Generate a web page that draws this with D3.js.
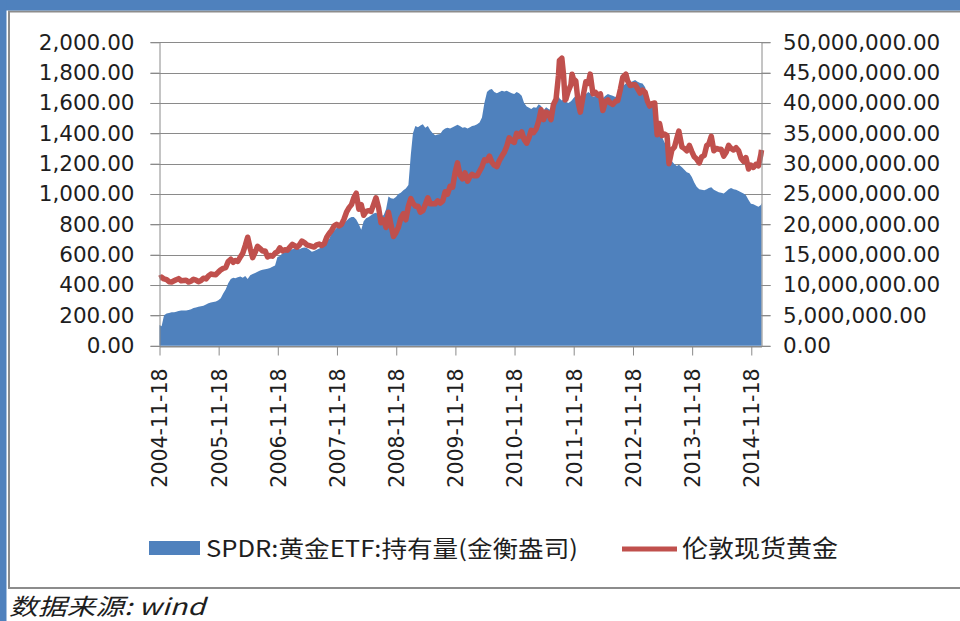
<!DOCTYPE html>
<html>
<head>
<meta charset="utf-8">
<script src="https://cdn.jsdelivr.net/npm/d3@7"></script>
<style>
  html, body { margin: 0; padding: 0; background: #fff; }
  svg { display: block; }
</style>
</head>
<body>
<div id="chart"></div>
<script>
// SPDR 黄金ETF 持有量 (右轴, 盎司) 与 伦敦现货黄金 (左轴, 美元/盎司)

// 日期 (半月取样, 按年分行)
const dates = [
  "2004-11-18","2004-12-01","2004-12-16",
  "2005-01-01","2005-01-16","2005-02-01","2005-02-16","2005-03-01","2005-03-16","2005-04-01","2005-04-16","2005-05-01","2005-05-16","2005-06-01","2005-06-16","2005-07-01","2005-07-16","2005-08-01","2005-08-16","2005-09-01","2005-09-16","2005-10-01","2005-10-16","2005-11-01","2005-11-16","2005-12-01","2005-12-16",
  "2006-01-01","2006-01-16","2006-02-01","2006-02-16","2006-03-01","2006-03-16","2006-04-01","2006-04-16","2006-05-01","2006-05-16","2006-06-01","2006-06-16","2006-07-01","2006-07-16","2006-08-01","2006-08-16","2006-09-01","2006-09-16","2006-10-01","2006-10-16","2006-11-01","2006-11-16","2006-12-01","2006-12-16",
  "2007-01-01","2007-01-16","2007-02-01","2007-02-16","2007-03-01","2007-03-16","2007-04-01","2007-04-16","2007-05-01","2007-05-16","2007-06-01","2007-06-16","2007-07-01","2007-07-16","2007-08-01","2007-08-16","2007-09-01","2007-09-16","2007-10-01","2007-10-16","2007-11-01","2007-11-16","2007-12-01","2007-12-16",
  "2008-01-01","2008-01-16","2008-02-01","2008-02-16","2008-03-01","2008-03-16","2008-04-01","2008-04-16","2008-05-01","2008-05-16","2008-06-01","2008-06-16","2008-07-01","2008-07-16","2008-08-01","2008-08-16","2008-09-01","2008-09-16","2008-10-01","2008-10-16","2008-11-01","2008-11-16","2008-12-01","2008-12-16",
  "2009-01-01","2009-01-16","2009-02-01","2009-02-16","2009-03-01","2009-03-16","2009-04-01","2009-04-16","2009-05-01","2009-05-16","2009-06-01","2009-06-16","2009-07-01","2009-07-16","2009-08-01","2009-08-16","2009-09-01","2009-09-16","2009-10-01","2009-10-16","2009-11-01","2009-11-16","2009-12-01","2009-12-16",
  "2010-01-01","2010-01-16","2010-02-01","2010-02-16","2010-03-01","2010-03-16","2010-04-01","2010-04-16","2010-05-01","2010-05-16","2010-06-01","2010-06-16","2010-07-01","2010-07-16","2010-08-01","2010-08-16","2010-09-01","2010-09-16","2010-10-01","2010-10-16","2010-11-01","2010-11-16","2010-12-01","2010-12-16",
  "2011-01-01","2011-01-16","2011-02-01","2011-02-16","2011-03-01","2011-03-16","2011-04-01","2011-04-16","2011-05-01","2011-05-16","2011-06-01","2011-06-16","2011-07-01","2011-07-16","2011-08-01","2011-08-16","2011-08-22","2011-09-06","2011-09-16","2011-09-26","2011-10-01","2011-10-16","2011-11-01","2011-11-08","2011-11-16","2011-12-01","2011-12-16","2011-12-29",
  "2012-01-16","2012-02-01","2012-02-16","2012-02-28","2012-03-16","2012-04-01","2012-04-16","2012-05-01","2012-05-16","2012-06-01","2012-06-16","2012-07-01","2012-07-16","2012-08-01","2012-08-16","2012-09-01","2012-09-16","2012-10-05","2012-10-16","2012-11-01","2012-11-16","2012-12-01","2012-12-16",
  "2013-01-01","2013-01-16","2013-02-01","2013-02-16","2013-03-01","2013-03-16","2013-04-01","2013-04-16","2013-05-01","2013-05-16","2013-06-01","2013-06-16","2013-06-28","2013-07-16","2013-08-01","2013-08-16","2013-08-28","2013-09-16","2013-10-01","2013-10-16","2013-11-01","2013-11-16","2013-12-01","2013-12-16",
  "2014-01-01","2014-01-16","2014-02-01","2014-02-16","2014-03-01","2014-03-16","2014-04-01","2014-04-16","2014-05-01","2014-05-16","2014-06-01","2014-06-16","2014-07-01","2014-07-16","2014-08-01","2014-08-16","2014-09-01","2014-09-16","2014-10-01","2014-10-16","2014-11-01","2014-11-16","2014-12-01","2014-12-16",
  "2015-01-01","2015-01-16","2015-01-20"
];

// 伦敦现货黄金 (美元/盎司, 左轴)
const goldPrice = [
  445,452,440,
  435,422,420,428,435,442,428,430,432,420,425,438,432,422,430,445,440,460,472,470,468,485,500,510,
  515,555,570,550,562,555,585,610,660,715,640,580,615,655,640,625,625,585,595,590,610,620,645,625,
  632,630,650,668,660,650,665,690,680,665,660,655,650,665,670,660,672,715,740,760,790,800,790,800,
  835,880,910,930,975,1005,900,930,860,885,890,885,930,975,910,810,830,780,880,800,720,745,780,840,
  870,830,920,970,940,920,920,880,890,930,975,935,935,935,955,940,955,1015,1000,1050,1045,1140,1205,1125,
  1100,1140,1085,1115,1130,1120,1120,1150,1180,1225,1220,1250,1210,1190,1180,1220,1250,1275,1315,1370,1350,1340,1400,1380,
  1410,1360,1335,1375,1420,1405,1430,1480,1555,1490,1540,1530,1490,1590,1625,1780,1880,1895,1790,1620,1625,1680,1720,1790,1760,1745,1600,1540,
  1650,1740,1730,1790,1660,1670,1650,1660,1550,1610,1620,1600,1590,1610,1615,1690,1770,1790,1745,1715,1720,1720,1695,
  1665,1685,1670,1610,1580,1595,1600,1390,1465,1385,1395,1385,1200,1290,1310,1370,1415,1310,1300,1285,1320,1280,1245,1230,
  1205,1245,1255,1320,1330,1380,1285,1300,1295,1295,1250,1275,1320,1300,1290,1305,1285,1235,1215,1240,1165,1190,1175,1195,
  1185,1260,1290
];

// SPDR 黄金ETF 持有量 (百万金衡盎司, 右轴)
const spdrHoldingsMoz = [
  3.4,3.2,5.0,
  5.3,5.4,5.5,5.5,5.6,5.7,5.8,5.8,5.8,5.9,6.0,6.2,6.3,6.4,6.5,6.6,6.8,7.0,7.1,7.2,7.3,7.5,7.8,8.6,
  9.3,10.3,11.0,11.2,11.1,11.3,11.4,11.2,11.5,11.0,11.6,11.8,12.0,12.2,12.4,12.5,12.6,12.7,12.8,13.0,13.2,14.6,14.8,15.2,
  15.4,15.6,15.8,15.9,16.0,16.1,15.9,16.1,16.2,16.1,15.8,15.5,15.6,15.8,16.0,16.2,16.8,17.4,17.6,18.5,19.0,19.4,19.6,20.0,
  20.2,20.6,21.0,21.2,21.2,20.8,20.0,19.1,20.5,21.0,21.2,21.5,21.8,21.9,21.6,21.4,21.5,22.5,24.6,24.3,24.2,24.5,25.0,25.2,
  25.6,25.9,26.5,31.5,35.0,36.2,36.0,36.3,36.5,35.9,36.2,35.5,35.0,34.7,34.8,34.9,35.5,35.8,35.9,35.8,36.0,36.2,36.4,36.2,
  35.9,36.0,35.8,36.0,36.2,36.3,36.5,36.8,37.6,40.0,41.8,42.2,42.3,41.8,41.6,41.8,42.0,41.9,42.0,41.8,41.6,41.5,41.8,41.6,
  41.2,40.0,39.4,39.2,39.0,39.3,39.2,39.8,39.5,38.8,39.3,39.0,38.8,39.5,40.5,41.3,40.8,40.4,40.6,40.3,40.2,40.0,40.3,40.5,40.8,41.2,41.4,41.0,
  41.0,41.5,41.8,41.6,41.0,41.2,41.0,41.1,40.8,41.2,41.5,41.3,41.2,41.0,41.3,42.0,42.8,43.2,43.3,43.4,43.6,43.8,43.5,
  43.3,43.2,42.6,41.0,40.2,39.8,39.5,37.2,35.6,34.4,33.5,32.8,31.3,30.4,29.9,29.6,29.8,29.4,29.0,28.6,28.4,27.8,26.9,26.2,
  25.8,25.7,25.6,25.8,26.0,26.1,25.7,25.5,25.3,25.2,25.1,25.4,25.8,26.0,25.8,25.7,25.5,25.3,25.1,24.8,24.0,23.4,23.3,23.1,
  22.9,23.2,23.5
];

// 刻度
const leftTicks = [0, 200, 400, 600, 800, 1000, 1200, 1400, 1600, 1800, 2000];
const rightTicks = [0, 5e6, 10e6, 15e6, 20e6, 25e6, 30e6, 35e6, 40e6, 45e6, 50e6];
const xTickLabels = ["2004-11-18","2005-11-18","2006-11-18","2007-11-18","2008-11-18","2009-11-18",
                     "2010-11-18","2011-11-18","2012-11-18","2013-11-18","2014-11-18"];

const seriesNames = ["SPDR:黄金ETF:持有量(金衡盎司)", "伦敦现货黄金"];
const sourceNote = "数据来源: wind";

const parse = d3.timeParse("%Y-%m-%d");
const data = dates.map((d, i) => ({ date: parse(d), gold: goldPrice[i], oz: spdrHoldingsMoz[i] * 1e6 }));

const W = 960, H = 621;
const blue = "#4F81BD", red = "#C0504D", grid = "#8a8a8a", ink = "#1e1e1e";
const plot = { left: 159.5, right: 761.5, top: 42.3, bottom: 345.7 };
const axisFont = "'DejaVu Sans', Verdana, sans-serif";
const cjkFont = "'Noto Sans CJK SC', sans-serif";

const svg = d3.select("#chart").append("svg")
  .attr("width", W).attr("height", H);

// 外框
svg.append("rect").attr("x", 0).attr("y", 0).attr("width", W).attr("height", H).attr("fill", "#fff");
svg.append("rect").attr("x", 9).attr("y", 11.5).attr("width", W).attr("height", 576.5)
  .attr("fill", "#fff").attr("stroke", "#8c8c8c").attr("stroke-width", 2);
svg.append("rect").attr("x", 0).attr("y", 0).attr("width", W).attr("height", 10.5).attr("fill", blue);
svg.append("rect").attr("x", 0).attr("y", 0).attr("width", 6.5).attr("height", H).attr("fill", blue);

// 比例尺
const x = d3.scaleTime()
  .domain([parse(dates[0]), parse(dates[dates.length - 1])])
  .range([plot.left, plot.right]);
const yL = d3.scaleLinear().domain([0, 2000]).range([plot.bottom, plot.top]);
const yR = d3.scaleLinear().domain([0, 50e6]).range([plot.bottom, plot.top]);

// 网格线
svg.append("g").selectAll("line")
  .data(leftTicks)
  .enter().append("line")
  .attr("x1", plot.left - 9).attr("x2", plot.right + 9)
  .attr("y1", d => Math.round(yL(d)) + 0.5).attr("y2", d => Math.round(yL(d)) + 0.5)
  .attr("stroke", grid).attr("stroke-width", 1);

// 面积: SPDR 持有量
const area = d3.area()
  .x(d => x(d.date))
  .y0(yR(0))
  .y1(d => yR(d.oz));
svg.append("path").datum(data)
  .attr("d", area)
  .attr("fill", blue);

// 折线: 伦敦现货黄金
const line = d3.line()
  .x(d => x(d.date))
  .y(d => yL(d.gold));
svg.append("path").datum(data)
  .attr("d", line)
  .attr("fill", "none")
  .attr("stroke", red)
  .attr("stroke-width", 5.5)
  .attr("stroke-linejoin", "round");

// 坐标轴
const fmt = d3.format(",.2f");
const styleAxis = g => {
  g.attr("font-family", axisFont).attr("font-size", 21.5);
  g.selectAll("line").attr("stroke", grid);
  g.selectAll("path").attr("stroke", grid);
  g.selectAll("text").attr("fill", ink);
};

svg.append("g")
  .attr("transform", `translate(${plot.left},0)`)
  .call(d3.axisLeft(yL).tickValues(leftTicks).tickFormat(fmt).tickSize(9).tickSizeOuter(0).tickPadding(16))
  .call(styleAxis);

svg.append("g")
  .attr("transform", `translate(${plot.right},0)`)
  .call(d3.axisRight(yR).tickValues(rightTicks).tickFormat(fmt).tickSize(9).tickSizeOuter(0).tickPadding(12.5))
  .call(styleAxis);

const xAxis = svg.append("g")
  .attr("transform", `translate(0,${Math.round(plot.bottom) + 0.5})`)
  .call(d3.axisBottom(x).tickValues(xTickLabels.map(parse)).tickFormat(d3.timeFormat("%Y-%m-%d")).tickSize(9).tickSizeOuter(0))
  .call(styleAxis);
xAxis.attr("font-size", 20.5);
xAxis.selectAll("text")
  .attr("transform", "rotate(-90)")
  .attr("x", -22).attr("y", 0).attr("dy", "0.36em")
  .style("text-anchor", "end");

// 图例
const legend = svg.append("g").attr("font-family", cjkFont).attr("fill", ink);
legend.append("rect").attr("x", 149).attr("y", 541).attr("width", 51).attr("height", 14).attr("fill", blue);
legend.append("text").attr("x", 206).attr("y", 557)
  .attr("font-size", 23).attr("textLength", 372).attr("lengthAdjust", "spacingAndGlyphs")
  .text(seriesNames[0]);
legend.append("line").attr("x1", 622).attr("x2", 677).attr("y1", 549).attr("y2", 549)
  .attr("stroke", red).attr("stroke-width", 5);
legend.append("text").attr("x", 682).attr("y", 557)
  .attr("font-size", 24).attr("textLength", 156).attr("lengthAdjust", "spacingAndGlyphs")
  .text(seriesNames[1]);

// 数据来源
svg.append("text").attr("x", 9).attr("y", 615)
  .attr("font-family", cjkFont).attr("font-style", "italic").attr("font-size", 23)
  .attr("fill", ink).attr("textLength", 196).attr("lengthAdjust", "spacingAndGlyphs")
  .text(sourceNote);
</script>
</body>
</html>
